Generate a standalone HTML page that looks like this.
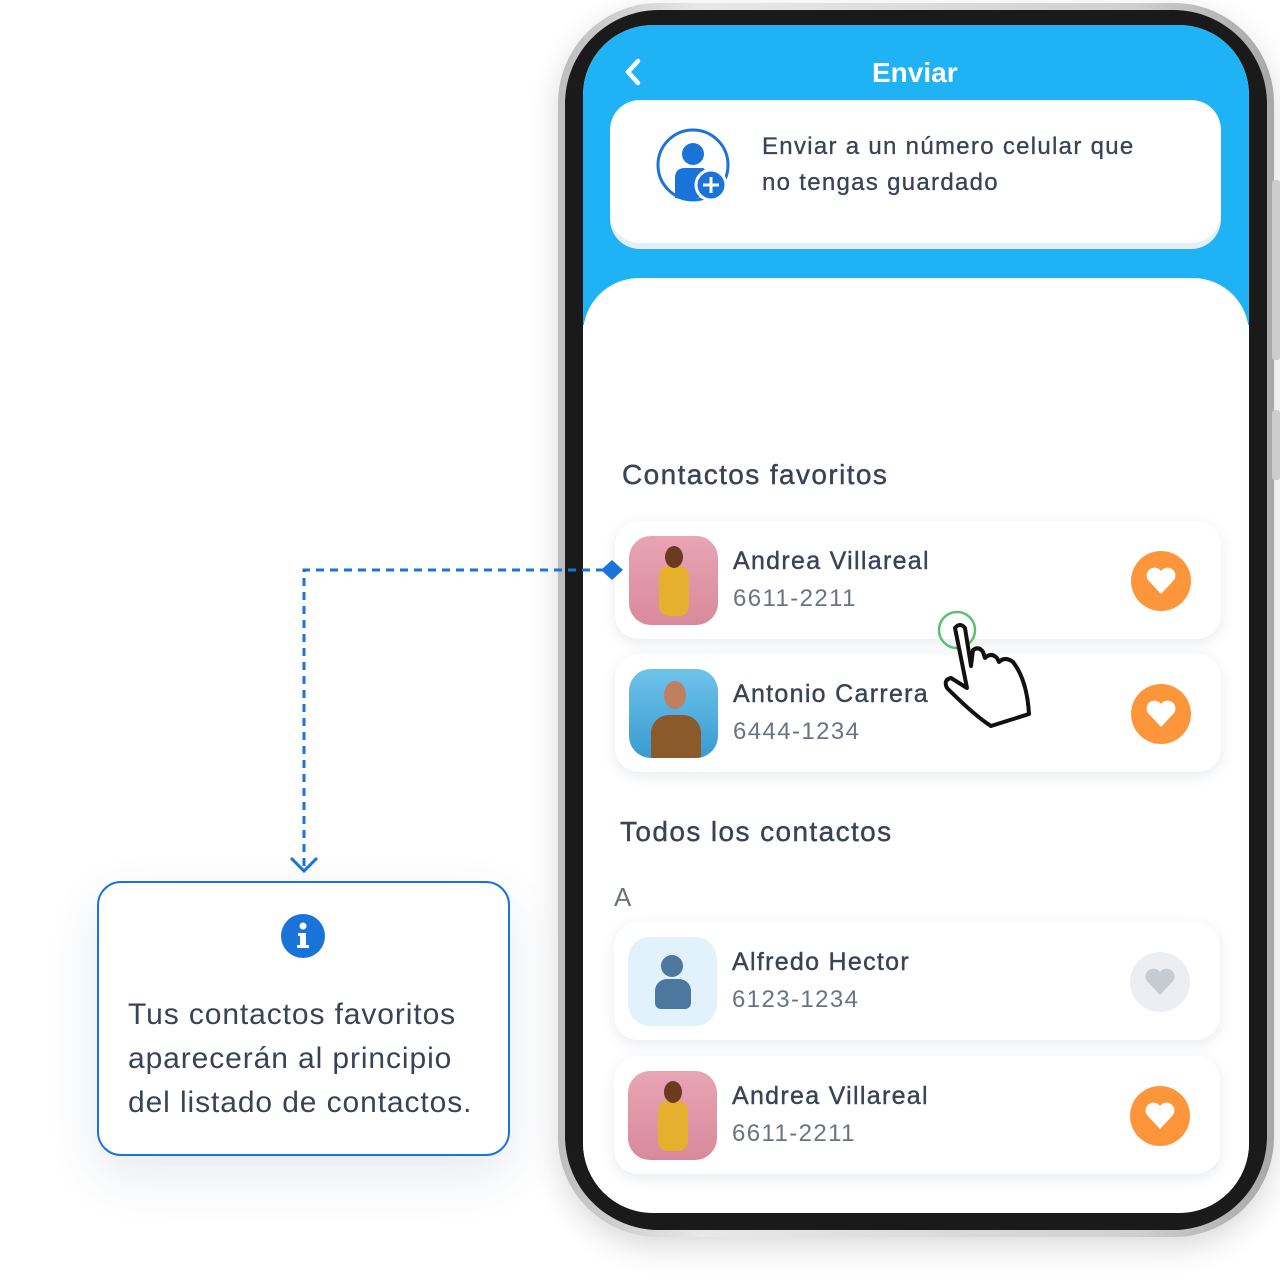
<!DOCTYPE html>
<html><head><meta charset="utf-8"><style>
*{margin:0;padding:0;box-sizing:border-box}
body{width:1280px;height:1284px;background:#fff;position:relative;overflow:hidden;font-family:"Liberation Sans",sans-serif;color:#3a4257}
.a{position:absolute}
.card{position:absolute;left:615px;width:606px;height:118px;background:#fff;border-radius:24px;box-shadow:0 4px 14px rgba(40,60,100,.10)}
.av{position:absolute;left:14px;top:15px;width:89px;height:89px;border-radius:22px;overflow:hidden}
.nm{position:absolute;left:118px;top:26px;font-size:25px;color:#3a4257;letter-spacing:1.3px;-webkit-text-stroke:0.4px #3a4257}
.ph{position:absolute;left:118px;top:64px;font-size:24px;color:#6b7383;letter-spacing:1.4px}
.ht{position:absolute;left:516px;top:30px;width:60px;height:60px;border-radius:50%;background:#fd963a}
.ht svg{position:absolute;left:14px;top:15px}
.h{font-size:28px;color:#3a4257;letter-spacing:1.4px;-webkit-text-stroke:0.4px #3a4257}
</style></head><body>
<div class="a" style="left:558px;top:3px;width:716px;height:1234px;border-radius:100px;background:linear-gradient(90deg,#bdbdbd,#e8e8e8 20%,#d0d0d0 80%,#a8a8a8);box-shadow:0 10px 30px rgba(0,0,0,.15)"></div>
<div class="a" style="left:1272px;top:180px;width:8px;height:180px;background:#ccc;border-radius:3px"></div>
<div class="a" style="left:1272px;top:410px;width:8px;height:70px;background:#ccc;border-radius:3px"></div>
<div class="a" style="left:565px;top:10px;width:702px;height:1220px;border-radius:94px;background:#1a1a1a"></div>
<div class="a" style="left:583px;top:25px;width:666px;height:1188px;border-radius:70px;background:#fff;overflow:hidden">
  <div class="a" style="left:0;top:0;width:666px;height:300px;background:#1fb2f4"></div>
  <div class="a" style="left:0;top:253px;width:666px;height:960px;background:#fff;border-radius:56px 56px 0 0"></div>
</div>
<svg class="a" style="left:622px;top:58px" width="20" height="28"><path d="M16 3 L6 14 L16 25" fill="none" stroke="#fff" stroke-width="4.5" stroke-linecap="round" stroke-linejoin="round"/></svg>
<div class="a" style="left:872px;top:57px;font-size:28px;color:#fff;font-weight:bold">Enviar</div>
<div class="a" style="left:610px;top:100px;width:611px;height:143px;background:#fff;border-radius:30px;box-shadow:0 6px 0 #e6eef5"></div>
<svg class="a" style="left:655px;top:128px" width="78" height="76"><circle cx="38" cy="37" r="35" fill="none" stroke="#1a73d9" stroke-width="3"/><circle cx="38" cy="26" r="11" fill="#1a73d9"/><path d="M20 70 V50 Q20 40 30 40 H48 Q52 42 52 50 V66 Q40 74 20 70Z" fill="#1a73d9"/><circle cx="56" cy="57" r="15" fill="#1a73d9" stroke="#fff" stroke-width="3"/><path d="M56 49 V65 M48 57 H64" stroke="#fff" stroke-width="3"/></svg>
<div class="a" style="left:762px;top:129px;font-size:24px;line-height:36px;color:#3a4257;letter-spacing:1.3px;-webkit-text-stroke:0.3px #3a4257">Enviar a un número celular que<br>no tengas guardado</div>

<div class="a h" style="left:622px;top:459px">Contactos favoritos</div>
<div class="card" style="top:521px"><div class="av" style="background:linear-gradient(#e8a5b5,#d88a9c)"><div class="a" style="left:30px;top:30px;width:30px;height:50px;background:#e6b02e;border-radius:10px"></div><div class="a" style="left:36px;top:10px;width:18px;height:22px;background:#6b3a20;border-radius:50%"></div></div><div class="nm">Andrea Villareal</div><div class="ph">6611-2211</div><div class="ht"><svg width="32" height="30"><path d="M16 28 L3 14 A7.5 7.5 0 0 1 16 5 A7.5 7.5 0 0 1 29 14Z" fill="#fff"/></svg></div></div>
<div class="card" style="top:654px"><div class="av" style="background:linear-gradient(#6ec3ea,#3a9bd0)"><div class="a" style="left:22px;top:46px;width:50px;height:45px;background:#8b5a2b;border-radius:18px 18px 0 0"></div><div class="a" style="left:35px;top:12px;width:22px;height:28px;background:#c08060;border-radius:50%"></div></div><div class="nm">Antonio Carrera</div><div class="ph">6444-1234</div><div class="ht"><svg width="32" height="30"><path d="M16 28 L3 14 A7.5 7.5 0 0 1 16 5 A7.5 7.5 0 0 1 29 14Z" fill="#fff"/></svg></div></div>

<div class="a h" style="left:620px;top:816px">Todos los contactos</div>
<div class="a" style="left:614px;top:882px;font-size:26px;color:#6b7383">A</div>
<div class="card" style="top:922px;left:614px"><div class="av" style="background:#e2f2fd"><div class="a" style="left:33px;top:18px;width:22px;height:22px;background:#4e77a0;border-radius:50%"></div><div class="a" style="left:27px;top:42px;width:36px;height:30px;background:#4e77a0;border-radius:12px 12px 6px 6px"></div></div><div class="nm">Alfredo Hector</div><div class="ph">6123-1234</div><div class="ht" style="background:#eceef3"><svg width="32" height="30"><path d="M16 28 L3 14 A7.5 7.5 0 0 1 16 5 A7.5 7.5 0 0 1 29 14Z" fill="#c6cad2"/></svg></div></div>
<div class="card" style="top:1056px;left:614px"><div class="av" style="background:linear-gradient(#e8a5b5,#d88a9c)"><div class="a" style="left:30px;top:30px;width:30px;height:50px;background:#e6b02e;border-radius:10px"></div><div class="a" style="left:36px;top:10px;width:18px;height:22px;background:#6b3a20;border-radius:50%"></div></div><div class="nm">Andrea Villareal</div><div class="ph">6611-2211</div><div class="ht"><svg width="32" height="30"><path d="M16 28 L3 14 A7.5 7.5 0 0 1 16 5 A7.5 7.5 0 0 1 29 14Z" fill="#fff"/></svg></div></div>

<svg class="a" style="left:935px;top:608px" width="100" height="125"><circle cx="22" cy="22" r="18" fill="none" stroke="#5cc070" stroke-width="2.5"/><path d="M20 20 Q25 14 30 20 L36 58 L38 42 Q44 38 48 44 L50 50 Q56 44 62 50 L64 54 Q70 48 78 54 Q92 72 94 106 L56 118 Q40 108 12 80 Q8 72 16 70 L32 80 Z" fill="#fff" stroke="#111" stroke-width="4" stroke-linejoin="round"/></svg>

<svg class="a" style="left:0;top:0" width="640" height="900"><path d="M604 570 H304 V868" fill="none" stroke="#1a73d9" stroke-width="3" stroke-dasharray="8 6"/><path d="M291 858 L304 871 L317 858" fill="none" stroke="#1a73d9" stroke-width="3"/><path d="M612 560 L623 570 L612 580 L601 570Z" fill="#1a73d9"/></svg>

<div class="a" style="left:97px;top:881px;width:413px;height:275px;border:2px solid #1a73d9;border-radius:24px;background:#fff;box-shadow:0 20px 50px rgba(60,80,130,.12)"></div>
<svg class="a" style="left:281px;top:914px" width="44" height="44"><circle cx="22" cy="22" r="22" fill="#1a73d9"/><circle cx="22" cy="12" r="3.5" fill="#fff"/><path d="M17 19 H25 V31 H28 V34 H16 V31 H19 V22 H17Z" fill="#fff"/></svg>
<div class="a" style="left:128px;top:993px;font-size:30px;line-height:44px;color:#3a4257;letter-spacing:0.9px">Tus contactos favoritos<br>aparecerán al principio<br>del listado de contactos.</div>
</body></html>
